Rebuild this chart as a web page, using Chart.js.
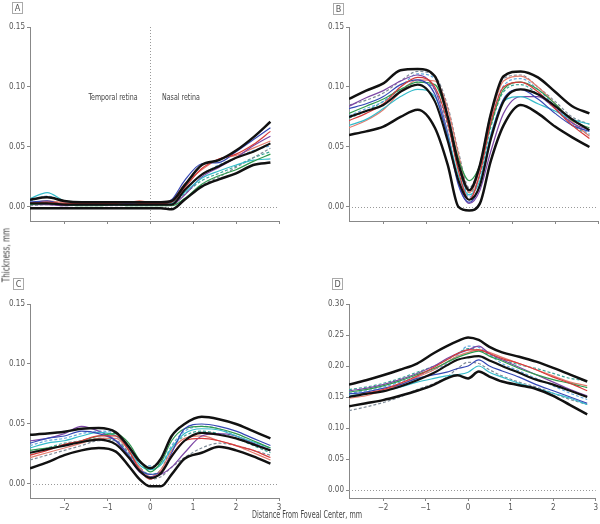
<!DOCTYPE html>
<html>
<head>
<meta charset="UTF-8">
<title>Retinal layer thickness profiles</title>
<script src="https://cdn.jsdelivr.net/npm/chart.js"></script>
<style>
  body { margin: 0; background: #fff; }
  #wrap { position: relative; width: 600px; height: 524px; font-family: 'Liberation Sans Narrow', 'DejaVu Sans Condensed', sans-serif; color: #444; }
  #wrap canvas { position: absolute; left: 0; top: 0; }
  .tag { position: absolute; width: 9px; height: 10px; border: 1px solid #aaa; font-size: 9px; line-height: 10px; text-align: center; color: #555; }
  .note { position: absolute; font-size: 9px; color: #444; white-space: nowrap; }
</style>
</head>
<body>
<div id="wrap">
  <canvas id="cA" width="600" height="524"></canvas>
  <canvas id="cB" width="600" height="524"></canvas>
  <canvas id="cC" width="600" height="524"></canvas>
  <canvas id="cD" width="600" height="524"></canvas>

  <div class="tag" style="left:12px; top:2px;">A</div>
  <div class="tag" style="left:333px; top:3px;">B</div>
  <div class="tag" style="left:13px; top:278px;">C</div>
  <div class="tag" style="left:332px; top:278px;">D</div>

  <div class="note" style="left:113px; top:92px; transform:translateX(-50%) scaleX(0.78);">Temporal retina</div>
  <div class="note" style="left:181px; top:92px; transform:translateX(-50%) scaleX(0.78);">Nasal retina</div>

  <div class="note" style="left:307px; top:509px; font-size:10px; transform:translateX(-50%) scaleX(0.72);">Distance From Foveal Center, mm</div>
  <div class="note" style="left:6px; top:255px; font-size:10px; transform:translate(-50%,-50%) rotate(-90deg) scaleX(0.8);">Thickness, mm</div>
</div>

<script>
// sample positions along the scan, mm from foveal center
const xs = [-2.8, -2.4, -2, -1.6, -1.2, -0.8, -0.5, -0.25, 0, 0.25, 0.5, 0.8, 1.2, 1.6, 2, 2.4, 2.8];
const xTicks = [-2, -1, 0, 1, 2, 3];
const yTicksThin = [0, 0.05, 0.10, 0.15];
const yTicksThick = [0, 0.05, 0.10, 0.15, 0.20, 0.25, 0.30];

// panel A
const aUpper = [0.006, 0.008, 0.005, 0.004, 0.004, 0.004, 0.004, 0.004, 0.004, 0.004, 0.005, 0.018, 0.035, 0.039, 0.047, 0.058, 0.071];
const aMean  = [0.003, 0.003, 0.002, 0.002, 0.002, 0.002, 0.002, 0.002, 0.002, 0.002, 0.002, 0.014, 0.027, 0.034, 0.041, 0.046, 0.053];
const aLower = [-0.001, -0.001, -0.001, -0.001, -0.001, -0.001, -0.001, -0.001, -0.001, -0.001, -0.002, 0.006, 0.017, 0.023, 0.028, 0.035, 0.037];
const aEyes = [
  [0.003, 0.004, 0.003, 0.003, 0.003, 0.003, 0.004, 0.003, 0.003, 0.003, 0.004, 0.016, 0.032, 0.040, 0.044, 0.052, 0.063],
  [0.004, 0.005, 0.002, 0.002, 0.002, 0.002, 0.002, 0.002, 0.002, 0.003, 0.006, 0.022, 0.036, 0.037, 0.046, 0.056, 0.066],
  [0.002, 0.003, 0.002, 0.001, 0.001, 0.002, 0.001, 0.001, 0.001, 0.001, 0.001, 0.007, 0.019, 0.026, 0.031, 0.038, 0.044],
  [0.007, 0.012, 0.005, 0.003, 0.002, 0.002, 0.002, 0.002, 0.002, 0.002, 0.003, 0.012, 0.024, 0.030, 0.035, 0.039, 0.040],
  [0.002, 0.002, 0.001, 0.002, 0.002, 0.002, 0.003, 0.002, 0.002, 0.002, 0.002, 0.010, 0.025, 0.033, 0.041, 0.051, 0.059],
  [0.003, 0.005, 0.004, 0.004, 0.004, 0.004, 0.004, 0.005, 0.004, 0.004, 0.006, 0.019, 0.031, 0.040, 0.043, 0.049, 0.055],
  [0.005, 0.009, 0.004, 0.003, 0.003, 0.003, 0.003, 0.003, 0.003, 0.003, 0.004, 0.014, 0.027, 0.035, 0.041, 0.047, 0.051],
  [0.001, 0.002, 0.001, 0.001, 0.001, 0.001, 0.001, 0.001, 0.001, 0.001, 0.002, 0.006, 0.018, 0.025, 0.033, 0.041, 0.049],
  [0.003, 0.004, 0.003, 0.003, 0.003, 0.003, 0.003, 0.003, 0.003, 0.003, 0.003, 0.011, 0.022, 0.028, 0.034, 0.041, 0.046]
];

// panel B
const bUpper = [0.090, 0.097, 0.103, 0.114, 0.115, 0.109, 0.075, 0.036, 0.014, 0.035, 0.077, 0.109, 0.113, 0.108, 0.096, 0.084, 0.078];
const bMean  = [0.075, 0.080, 0.085, 0.096, 0.102, 0.088, 0.055, 0.022, 0.006, 0.018, 0.056, 0.088, 0.098, 0.094, 0.084, 0.073, 0.064];
const bLower = [0.060, 0.063, 0.067, 0.075, 0.081, 0.066, 0.035, 0.000, -0.003, 0.003, 0.038, 0.068, 0.085, 0.078, 0.067, 0.058, 0.050];
const bEyes = [
  [0.072, 0.078, 0.086, 0.100, 0.108, 0.100, 0.070, 0.030, 0.006, 0.028, 0.070, 0.100, 0.104, 0.096, 0.082, 0.068, 0.057],
  [0.082, 0.086, 0.092, 0.102, 0.106, 0.094, 0.058, 0.018, 0.004, 0.018, 0.058, 0.090, 0.098, 0.090, 0.078, 0.068, 0.063],
  [0.078, 0.084, 0.090, 0.098, 0.104, 0.102, 0.075, 0.040, 0.022, 0.035, 0.068, 0.098, 0.104, 0.098, 0.086, 0.072, 0.066],
  [0.068, 0.073, 0.082, 0.092, 0.098, 0.092, 0.060, 0.026, 0.010, 0.022, 0.060, 0.088, 0.092, 0.086, 0.080, 0.073, 0.069],
  [0.084, 0.091, 0.097, 0.105, 0.110, 0.098, 0.062, 0.020, 0.003, 0.014, 0.046, 0.078, 0.092, 0.092, 0.082, 0.070, 0.064],
  [0.066, 0.072, 0.081, 0.096, 0.106, 0.105, 0.082, 0.044, 0.012, 0.032, 0.074, 0.105, 0.109, 0.100, 0.086, 0.071, 0.059],
  [0.076, 0.082, 0.088, 0.100, 0.111, 0.107, 0.079, 0.037, 0.008, 0.028, 0.071, 0.101, 0.107, 0.098, 0.084, 0.070, 0.061],
  [0.085, 0.089, 0.095, 0.105, 0.113, 0.109, 0.084, 0.046, 0.016, 0.036, 0.078, 0.107, 0.110, 0.100, 0.088, 0.075, 0.069],
  [0.074, 0.080, 0.088, 0.098, 0.104, 0.098, 0.068, 0.032, 0.012, 0.026, 0.066, 0.096, 0.102, 0.094, 0.082, 0.068, 0.060]
];

// panel C
const cUpper = [0.041, 0.042, 0.0435, 0.046, 0.0467, 0.043, 0.031, 0.019, 0.013, 0.021, 0.040, 0.050, 0.056, 0.054, 0.050, 0.044, 0.038];
const cMean  = [0.026, 0.029, 0.032, 0.035, 0.037, 0.033, 0.022, 0.011, 0.005, 0.009, 0.023, 0.036, 0.0425, 0.041, 0.038, 0.033, 0.028];
const cLower = [0.013, 0.018, 0.024, 0.028, 0.030, 0.027, 0.015, 0.004, -0.002, -0.002, 0.008, 0.021, 0.026, 0.031, 0.028, 0.023, 0.017];
const cEyes = [
  [0.024, 0.028, 0.033, 0.036, 0.040, 0.040, 0.028, 0.012, 0.004, 0.010, 0.024, 0.036, 0.038, 0.036, 0.032, 0.028, 0.022],
  [0.034, 0.038, 0.040, 0.044, 0.042, 0.036, 0.024, 0.012, 0.008, 0.010, 0.026, 0.046, 0.050, 0.048, 0.044, 0.038, 0.032],
  [0.028, 0.030, 0.032, 0.036, 0.040, 0.042, 0.034, 0.020, 0.010, 0.018, 0.036, 0.046, 0.048, 0.046, 0.042, 0.036, 0.030],
  [0.030, 0.034, 0.036, 0.040, 0.043, 0.040, 0.030, 0.016, 0.012, 0.016, 0.030, 0.042, 0.046, 0.045, 0.040, 0.035, 0.030],
  [0.036, 0.038, 0.042, 0.048, 0.044, 0.036, 0.022, 0.010, 0.006, 0.008, 0.014, 0.026, 0.040, 0.042, 0.040, 0.034, 0.028],
  [0.022, 0.026, 0.030, 0.034, 0.038, 0.038, 0.028, 0.014, 0.006, 0.012, 0.028, 0.038, 0.040, 0.036, 0.032, 0.026, 0.020],
  [0.032, 0.036, 0.038, 0.042, 0.044, 0.042, 0.032, 0.018, 0.015, 0.017, 0.032, 0.044, 0.048, 0.046, 0.040, 0.034, 0.030],
  [0.020, 0.024, 0.028, 0.032, 0.036, 0.036, 0.026, 0.012, 0.004, 0.006, 0.014, 0.022, 0.030, 0.034, 0.032, 0.028, 0.024],
  [0.026, 0.030, 0.034, 0.036, 0.038, 0.036, 0.026, 0.014, 0.008, 0.012, 0.030, 0.040, 0.044, 0.042, 0.038, 0.032, 0.026]
];

// panel D
const dUpper = [0.170, 0.177, 0.185, 0.194, 0.204, 0.221, 0.232, 0.240, 0.246, 0.242, 0.231, 0.222, 0.215, 0.207, 0.197, 0.186, 0.175];
const dMean  = [0.150, 0.155, 0.159, 0.167, 0.177, 0.189, 0.201, 0.210, 0.214, 0.216, 0.209, 0.200, 0.189, 0.178, 0.170, 0.160, 0.150];
const dLower = [0.135, 0.140, 0.145, 0.152, 0.160, 0.170, 0.180, 0.185, 0.180, 0.191, 0.183, 0.175, 0.169, 0.163, 0.152, 0.137, 0.122];
const dEyes = [
  [0.150, 0.156, 0.162, 0.172, 0.184, 0.198, 0.210, 0.220, 0.226, 0.226, 0.220, 0.212, 0.204, 0.194, 0.182, 0.172, 0.160],
  [0.155, 0.158, 0.164, 0.170, 0.180, 0.186, 0.190, 0.196, 0.200, 0.210, 0.200, 0.192, 0.182, 0.170, 0.160, 0.150, 0.140],
  [0.158, 0.162, 0.168, 0.176, 0.186, 0.196, 0.206, 0.214, 0.220, 0.224, 0.216, 0.208, 0.196, 0.186, 0.178, 0.172, 0.165],
  [0.152, 0.156, 0.160, 0.166, 0.174, 0.180, 0.184, 0.186, 0.190, 0.200, 0.190, 0.182, 0.172, 0.164, 0.156, 0.148, 0.138],
  [0.160, 0.164, 0.170, 0.178, 0.188, 0.200, 0.212, 0.220, 0.226, 0.232, 0.220, 0.210, 0.198, 0.186, 0.174, 0.162, 0.152],
  [0.148, 0.152, 0.160, 0.170, 0.182, 0.194, 0.206, 0.216, 0.222, 0.226, 0.222, 0.214, 0.204, 0.194, 0.184, 0.174, 0.168],
  [0.156, 0.160, 0.166, 0.174, 0.184, 0.194, 0.204, 0.218, 0.232, 0.230, 0.218, 0.204, 0.192, 0.180, 0.168, 0.156, 0.146],
  [0.128, 0.134, 0.141, 0.150, 0.162, 0.172, 0.182, 0.196, 0.206, 0.204, 0.194, 0.184, 0.174, 0.166, 0.156, 0.146, 0.138],
  [0.162, 0.166, 0.172, 0.180, 0.190, 0.200, 0.210, 0.220, 0.228, 0.226, 0.218, 0.210, 0.202, 0.196, 0.188, 0.180, 0.176]
];

// one style per individual eye trace, same order in every panel
const eyeStyles = [
  { color: '#d63a3a', dash: [] },
  { color: '#3548b5', dash: [] },
  { color: '#2f9a4f', dash: [] },
  { color: '#35bccb', dash: [] },
  { color: '#7d47a6', dash: [] },
  { color: '#e47b6e', dash: [] },
  { color: '#62a8de', dash: [3, 2] },
  { color: '#7f8c99', dash: [3, 2] },
  { color: '#3aa596', dash: [3, 2] }
];

const tickFont = { family: "'Liberation Sans Narrow', 'DejaVu Sans Condensed', sans-serif", size: 8 };

function pts(ys) {
  return xs.map((x, i) => ({ x: x, y: ys[i] }));
}

// dotted zero line (and the optional dotted line at the fovea)
const refLines = {
  id: 'refLines',
  beforeDatasetsDraw(chart, args, opts) {
    const ctx = chart.ctx, a = chart.chartArea;
    const y0 = chart.scales.y.getPixelForValue(0);
    ctx.save();
    ctx.strokeStyle = '#999';
    ctx.lineWidth = 1;
    ctx.setLineDash([1, 2]);
    ctx.beginPath();
    ctx.moveTo(a.left, Math.round(y0) + 0.5);
    ctx.lineTo(a.right, Math.round(y0) + 0.5);
    if (opts.vline) {
      const x0 = Math.round(chart.scales.x.getPixelForValue(0)) + 0.5;
      ctx.moveTo(x0, a.top);
      ctx.lineTo(x0, a.bottom);
    }
    ctx.stroke();
    ctx.restore();
  }
};

function panel(id, pad, yMin, yMax, yTicks, showX, upper, mean, lower, eyes, vline) {
  const sets = [
    { data: pts(upper), borderColor: '#111', borderWidth: 2.5 },
    { data: pts(mean), borderColor: '#111', borderWidth: 2.2 },
    { data: pts(lower), borderColor: '#111', borderWidth: 2.5 }
  ];
  eyes.forEach((ys, i) => {
    sets.push({ data: pts(ys), borderColor: eyeStyles[i].color, borderDash: eyeStyles[i].dash, borderWidth: 1.2 });
  });
  sets.forEach(s => { s.pointRadius = 0; s.fill = false; s.cubicInterpolationMode = 'monotone'; });

  new Chart(document.getElementById(id), {
    type: 'line',
    data: { datasets: sets },
    options: {
      responsive: false,
      animation: false,
      devicePixelRatio: 1,
      layout: { padding: pad },
      plugins: { legend: { display: false }, tooltip: { enabled: false }, refLines: { vline: vline } },
      scales: {
        x: {
          type: 'linear', min: -2.8, max: 3,
          afterBuildTicks: s => { s.ticks = xTicks.map(v => ({ value: v })); },
          afterFit: s => { s.height = showX ? 16 : 10; },
          grid: { drawOnChartArea: false, drawTicks: true, tickLength: 3, color: '#888' },
          border: { color: '#888', width: 1 },
          ticks: {
            display: showX, padding: 2, color: '#555', font: tickFont, maxRotation: 0,
            callback: v => (v < 0 ? '\u2212' + Math.abs(v) : String(v))
          }
        },
        y: {
          min: yMin, max: yMax,
          afterBuildTicks: s => { s.ticks = yTicks.map(v => ({ value: v })); },
          afterFit: s => { s.width = 30; },
          grid: { drawOnChartArea: false, drawTicks: true, tickLength: 3, color: '#888' },
          border: { color: '#888', width: 1 },
          ticks: { padding: 2, color: '#555', font: tickFont, callback: v => v.toFixed(2) }
        }
      }
    },
    plugins: [refLines]
  });
}

panel('cA', { left: 0, top: 27, right: 321, bottom: 293 }, -0.0117, 0.15, yTicksThin, false, aUpper, aMean, aLower, aEyes, true);
panel('cB', { left: 319, top: 27, right: 2, bottom: 293 }, -0.0117, 0.15, yTicksThin, false, bUpper, bMean, bLower, bEyes, false);
panel('cC', { left: 0, top: 304, right: 321, bottom: 10 }, -0.0117, 0.15, yTicksThin, true, cUpper, cMean, cLower, cEyes, false);
panel('cD', { left: 319, top: 304, right: 2, bottom: 10 }, -0.0129, 0.30, yTicksThick, true, dUpper, dMean, dLower, dEyes, false);
</script>
</body>
</html>
